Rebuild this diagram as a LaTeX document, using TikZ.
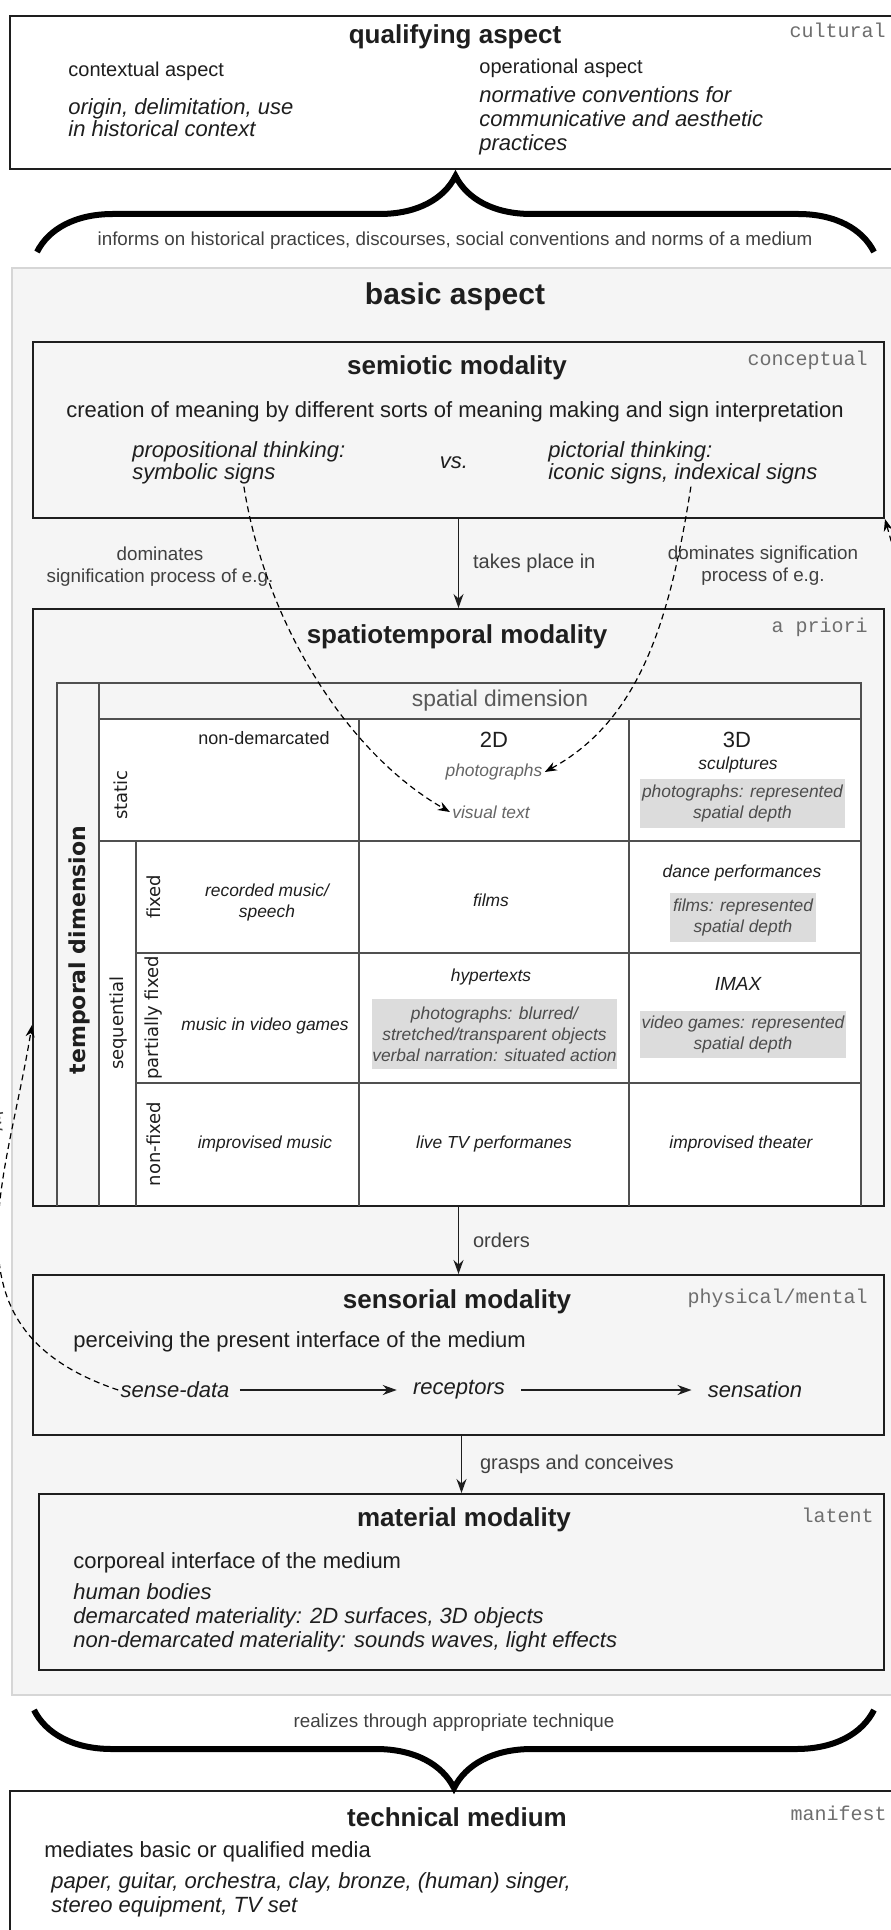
\documentclass[tikz,border=0pt]{standalone}
\usepackage{fontspec}
\setmainfont{Liberation Sans}
\setmonofont{Liberation Mono}
\newfontfamily\dejavu{DejaVu Sans}
\usetikzlibrary{arrows.meta,decorations.pathreplacing}
\definecolor{bgfill}{HTML}{F5F5F5}
\definecolor{bgline}{HTML}{D6D6D6}
\definecolor{cellgrey}{HTML}{DCDCDC}
\definecolor{tagcol}{HTML}{6E6E6E}
\definecolor{tabline}{HTML}{505050}
\definecolor{inkcol}{HTML}{1E1E1E}

\begin{document}
\begin{tikzpicture}[x=0.5pt, y=-0.5pt,
  every node/.style={inner sep=1pt, text=inkcol},
  qbox/.style={draw=inkcol, line width=1pt, inner sep=0pt},
  ttl/.style={font=\fontsize{13}{15}\selectfont\bfseries},
  tagtext/.style={font=\fontsize{10}{12}\selectfont\ttfamily, text=tagcol, anchor=east},
  bodytext/.style={font=\fontsize{11}{13}\selectfont, anchor=west},
  itext/.style={font=\fontsize{11}{12}\selectfont\itshape, anchor=west, align=left},
  smalltext/.style={font=\fontsize{9.4}{11}\selectfont, text=black!75, align=center},
  celltext/.style={font=\fontsize{8.7}{10.5}\selectfont\itshape, align=center},
  greycell/.style={celltext, fill=cellgrey, text=black!70, inner sep=0pt},
  sidelabel/.style={font=\dejavu\fontsize{9}{11}\selectfont, rotate=90},
  arrowline/.style={-{Stealth[length=7pt,width=5pt]}, line width=0.6pt, draw=inkcol},
  dashline/.style={-{Stealth[length=6pt,width=4.5pt]}, line width=0.6pt, dash pattern=on 3pt off 2pt},
  bigbrace/.style={decorate, decoration={brace, amplitude=#1}, line width=3pt}]
\useasboundingbox (0,0) rectangle (890,1930);

% frames
\node[qbox, fill=white, minimum width=445pt, minimum height=76.5pt] (qualifying) at (455,92.5) {};
\node[draw=bgline, fill=bgfill, line width=1pt, inner sep=0pt, minimum width=445pt, minimum height=713.5pt] (basic) at (457,981.5) {};
\node[qbox, fill=bgfill, minimum width=425.5pt, minimum height=88pt] (semiotic) at (458.5,430) {};
\node[qbox, fill=bgfill, minimum width=425.5pt, minimum height=298.5pt] (spatio) at (458.5,907.5) {};
\node[qbox, fill=bgfill, minimum width=425.5pt, minimum height=80pt] (sensorial) at (458.5,1355) {};
\node[qbox, fill=bgfill, minimum width=422.5pt, minimum height=88pt] (material) at (461.5,1582) {};
\node[qbox, fill=white, minimum width=445pt, minimum height=79.5pt] (technical) at (455,1870) {};

% qualifying aspect
\node[ttl] (qualtitle) at (455,37) {qualifying aspect};
\node[tagtext] (cultural) at (888,30) {cultural};
\node[bodytext, font=\fontsize{10}{12}\selectfont] (contextual) at (66,71) {contextual aspect};
\node[itext, font=\fontsize{11}{11}\selectfont\itshape] (origin) at (66,118) {origin, delimitation, use\\in historical context};
\node[bodytext, font=\fontsize{10}{12}\selectfont] (operational) at (477,68) {operational aspect};
\node[itext] (normative) at (477,121) {normative conventions for\\communicative and aesthetic\\practices};

\draw[bigbrace=38pt] (37,252) -- (874,252);
\node[smalltext] (informs) at (455,241) {informs on historical practices, discourses, social conventions and norms of a medium};

% basic aspect
\node[font=\fontsize{15}{17}\selectfont\bfseries] (basictitle) at (455,297) {basic aspect};

\node[ttl] (semtitle) at (457,368) {semiotic modality};
\node[tagtext] (conceptual) at (870,360) {conceptual};
\node[bodytext, anchor=center] (creation) at (455,412) {creation of meaning by different sorts of meaning making and sign interpretation};
\node[itext] (propthink) at (130,452) {propositional thinking:};
\node[itext] (symsigns) at (130,474) {symbolic signs};
\node[itext, anchor=center] (versus) at (454,463) {vs.};
\node[itext] (pictthink) at (546,452) {pictorial thinking:};
\node[itext] (iconsigns) at (546,474) {iconic signs, indexical signs};

\node[smalltext] (domleft) at (160,567) {dominates\\signification process of e.g.};
\node[smalltext] (domright) at (763,566) {dominates signification\\process of e.g.};
\draw[arrowline] (semiotic.south) -- (spatio.north) node[midway, right=6pt, font=\fontsize{10}{12}\selectfont, text=black!75] (takesplace) {takes place in};

\node[ttl] (spattitle) at (457,637) {spatiotemporal modality};
\node[tagtext] (apriori) at (870,627) {a priori};

% table
\fill[white] (99,719) rectangle (861,1205);
\begin{scope}[draw=tabline, line width=0.7pt]
\draw (57,1206) -- (57,683) -- (861,683) -- (861,1206);
\draw (99,683) -- (99,1206);
\foreach \y in {719,841} \draw (99,\y) -- (861,\y);
\foreach \y in {953,1083} \draw (136,\y) -- (861,\y);
\draw (136,841) -- (136,1206);
\foreach \x in {359,629} \draw (\x,719) -- (\x,1206);
\end{scope}

\node[sidelabel, font=\dejavu\bfseries\fontsize{11}{13}\selectfont] (temporal) at (79,950) {temporal dimension};
\node[sidelabel] (static) at (121,795) {static};
\node[sidelabel] (sequential) at (119,1023) {sequential};
\node[sidelabel] (fixedlab) at (154,897) {fixed};
\node[sidelabel] (partlab) at (154,1018) {partially fixed};
\node[sidelabel] (nonfixlab) at (154,1144) {non-fixed};

\node[font=\fontsize{11.4}{13}\selectfont, text=black!65] (spatial) at (500,701) {spatial dimension};
\node[font=\fontsize{9}{11}\selectfont] (nondem) at (264,738) {non-demarcated};
\node[font=\fontsize{11}{13}\selectfont] (twod) at (494,740) {2D};
\node[font=\fontsize{11}{13}\selectfont] (threed) at (737,740) {3D};
\node[celltext, text=black!60] (photos) at (494,772) {photographs};
\node[celltext, text=black!60] (vistext) at (491,812) {visual text};
\node[celltext] (sculpt) at (738,765) {sculptures};
\node[greycell, minimum width=102.5pt, minimum height=24.5pt] (photodepth) at (742.5,803.5) {photographs: represented\\spatial depth};

\node[celltext] (recorded) at (267,902) {recorded music/\\speech};
\node[celltext] (films) at (491,900) {films};
\node[celltext] (dance) at (742,873) {dance performances};
\node[greycell, minimum width=73pt, minimum height=24.5pt] (filmdepth) at (743,917.5) {films: represented\\spatial depth};

\node[celltext] (videogames) at (265,1026) {music in video games};
\node[celltext] (hyper) at (491,977) {hypertexts};
\node[greycell, minimum width=122.5pt, minimum height=35pt] (blurred) at (494.5,1034) {photographs: blurred/\\stretched/transparent objects\\verbal narration: situated action};
\node[celltext, font=\fontsize{9.5}{11}\selectfont\itshape] (imax) at (738,984) {IMAX};
\node[greycell, minimum width=103pt, minimum height=23.5pt] (gamedepth) at (743,1034.5) {video games: represented\\spatial depth};

\node[celltext] (impmusic) at (265,1144) {improvised music};
\node[celltext] (livetv) at (494,1144) {live TV performanes};
\node[celltext] (imptheater) at (741,1144) {improvised theater};

\draw[arrowline] (spatio.south) -- (sensorial.north) node[midway, right=6pt, font=\fontsize{10}{12}\selectfont, text=black!75] (orders) {orders};

% sensorial
\node[ttl] (senstitle) at (457,1302) {sensorial modality};
\node[tagtext] (physical) at (870,1298) {physical/mental};
\node[bodytext] (perceiving) at (71,1342) {perceiving the present interface of the medium};
\node[itext, anchor=center] (sensedata) at (175,1390) {sense-data};
\node[itext, anchor=center] (receptors) at (459,1390) {receptors};
\node[itext, anchor=center] (sensation) at (755,1390) {sensation};
\draw[arrowline, line width=0.8pt, shorten <=4pt, shorten >=7pt] (sensedata) -- (receptors);
\draw[arrowline, line width=0.8pt, shorten <=7pt, shorten >=7pt] (receptors) -- (sensation);

\draw[arrowline] (material.north |- sensorial.south) -- (material.north) node[midway, right=8pt, font=\fontsize{10}{12}\selectfont, text=black!75] (grasps) {grasps and conceives};

% material
\node[ttl] (mattitle) at (464,1520) {material modality};
\node[tagtext] (latent) at (876,1515) {latent};
\node[bodytext] (corporeal) at (71,1563) {corporeal interface of the medium};
\node[itext] (bodies) at (71,1617.5) {human bodies\\demarcated materiality: 2D surfaces, 3D objects\\non-demarcated materiality: sounds waves, light effects};

\draw[bigbrace=39pt] (874,1710) -- (34,1710);
\node[smalltext] (realizes) at (454,1723) {realizes through appropriate technique};

% technical medium
\node[ttl] (techtitle) at (457,1817) {technical medium};
\node[tagtext] (manifest) at (889,1813) {manifest};
\node[bodytext] (mediates) at (42,1852) {mediates basic or qualified media};
\node[itext] (paper) at (49,1895) {paper, guitar, orchestra, clay, bronze, (human) singer,\\stereo equipment, TV set};

% dashed links
\draw[dashline] ([xshift=20pt]symsigns.south) .. controls (265,620) and (345,752) .. (vistext.west);
\draw[dashline] ([xshift=4pt]iconsigns.south) .. controls (670,620) and (640,720) .. (photos.east);
\draw[dashline] (sensedata.west) .. controls (-60,1330) and (5,1190) .. ([yshift=-58.75pt]spatio.west);
\node[smalltext, rotate=-80] (bylabel) at (-4,1122) {by};
\coordinate (rightfree) at (902,580);
\draw[dashline] (rightfree) -- (semiotic.south east);
\end{tikzpicture}
\end{document}
